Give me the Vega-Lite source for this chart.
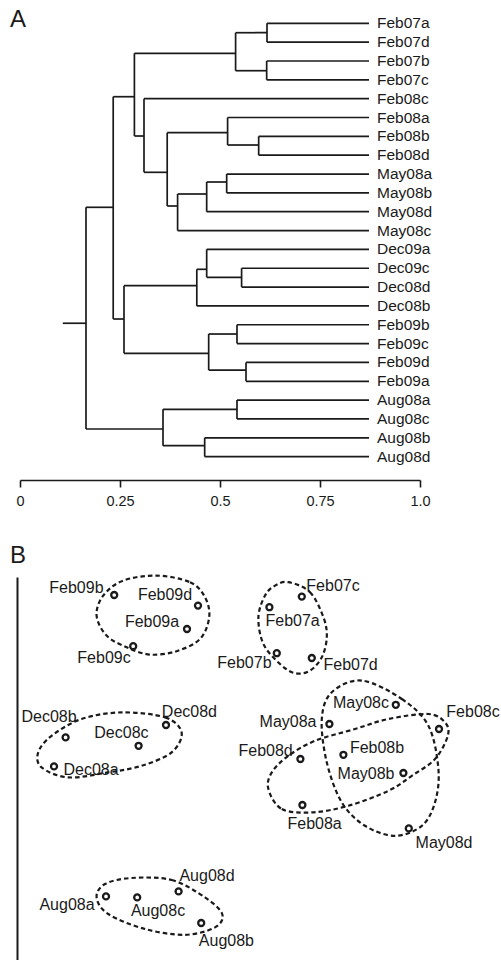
{
  "$schema": "https://vega.github.io/schema/vega-lite/v6.json",
  "padding": {"left": 10, "top": 0, "right": 0, "bottom": 0},
  "spacing": 36,
  "config": {
    "font": "Liberation Sans",
    "view": {"stroke": null},
    "title": {"fontSize": 24, "fontWeight": "normal", "color": "#1a1a1a", "anchor": "start", "frame": "group", "baseline": "alphabetic"}
  },
  "datasets": {
    "segs": [
      {"x": 0.6175, "x2": 0.6175, "y": 1, "y2": 2},
      {"x": 0.6167, "x2": 0.6167, "y": 3, "y2": 4},
      {"x": 0.539, "x2": 0.539, "y": 1.499, "y2": 3.516},
      {"x": 0.5967, "x2": 0.5967, "y": 7, "y2": 8},
      {"x": 0.519, "x2": 0.519, "y": 6, "y2": 7.46},
      {"x": 0.5167, "x2": 0.5167, "y": 9, "y2": 10},
      {"x": 0.4667, "x2": 0.4667, "y": 9.423, "y2": 11},
      {"x": 0.394, "x2": 0.394, "y": 10.06, "y2": 12},
      {"x": 0.368, "x2": 0.368, "y": 6.807, "y2": 10.697},
      {"x": 0.31, "x2": 0.31, "y": 5, "y2": 8.909},
      {"x": 0.286, "x2": 0.286, "y": 2.592, "y2": 6.982},
      {"x": 0.554, "x2": 0.554, "y": 14, "y2": 15},
      {"x": 0.4667, "x2": 0.4667, "y": 13, "y2": 14.482},
      {"x": 0.442, "x2": 0.442, "y": 14.057, "y2": 16},
      {"x": 0.5425, "x2": 0.5425, "y": 17, "y2": 18},
      {"x": 0.565, "x2": 0.565, "y": 19, "y2": 20},
      {"x": 0.4717, "x2": 0.4717, "y": 17.492, "y2": 19.403},
      {"x": 0.26, "x2": 0.26, "y": 14.928, "y2": 18.516},
      {"x": 0.233, "x2": 0.233, "y": 4.896, "y2": 16.695},
      {"x": 0.5425, "x2": 0.5425, "y": 21, "y2": 22},
      {"x": 0.4617, "x2": 0.4617, "y": 23, "y2": 24},
      {"x": 0.3575, "x2": 0.3575, "y": 21.488, "y2": 23.42},
      {"x": 0.165, "x2": 0.165, "y": 10.766, "y2": 22.534},
      {"x": 0.539, "x2": 0.6175, "y": 1.499, "y2": 1.499},
      {"x": 0.539, "x2": 0.6167, "y": 3.516, "y2": 3.516},
      {"x": 0.286, "x2": 0.539, "y": 2.592, "y2": 2.592},
      {"x": 0.519, "x2": 0.5967, "y": 7.46, "y2": 7.46},
      {"x": 0.368, "x2": 0.519, "y": 6.807, "y2": 6.807},
      {"x": 0.4667, "x2": 0.5167, "y": 9.423, "y2": 9.423},
      {"x": 0.394, "x2": 0.4667, "y": 10.06, "y2": 10.06},
      {"x": 0.368, "x2": 0.394, "y": 10.697, "y2": 10.697},
      {"x": 0.31, "x2": 0.368, "y": 8.909, "y2": 8.909},
      {"x": 0.286, "x2": 0.31, "y": 6.982, "y2": 6.982},
      {"x": 0.233, "x2": 0.286, "y": 4.896, "y2": 4.896},
      {"x": 0.4667, "x2": 0.554, "y": 14.482, "y2": 14.482},
      {"x": 0.442, "x2": 0.4667, "y": 14.057, "y2": 14.057},
      {"x": 0.26, "x2": 0.442, "y": 14.928, "y2": 14.928},
      {"x": 0.4717, "x2": 0.5425, "y": 17.492, "y2": 17.492},
      {"x": 0.4717, "x2": 0.565, "y": 19.403, "y2": 19.403},
      {"x": 0.26, "x2": 0.4717, "y": 18.516, "y2": 18.516},
      {"x": 0.233, "x2": 0.26, "y": 16.695, "y2": 16.695},
      {"x": 0.165, "x2": 0.233, "y": 10.766, "y2": 10.766},
      {"x": 0.3575, "x2": 0.5425, "y": 21.488, "y2": 21.488},
      {"x": 0.3575, "x2": 0.4617, "y": 23.42, "y2": 23.42},
      {"x": 0.165, "x2": 0.3575, "y": 22.534, "y2": 22.534},
      {"x": 0.107, "x2": 0.165, "y": 16.92, "y2": 16.92},
      {"x": 0.6175, "x2": 0.8725, "y": 1, "y2": 1, "leaf": "Feb07a"},
      {"x": 0.6175, "x2": 0.8725, "y": 2, "y2": 2, "leaf": "Feb07d"},
      {"x": 0.6167, "x2": 0.8725, "y": 3, "y2": 3, "leaf": "Feb07b"},
      {"x": 0.6167, "x2": 0.8725, "y": 4, "y2": 4, "leaf": "Feb07c"},
      {"x": 0.31, "x2": 0.8725, "y": 5, "y2": 5, "leaf": "Feb08c"},
      {"x": 0.519, "x2": 0.8725, "y": 6, "y2": 6, "leaf": "Feb08a"},
      {"x": 0.5967, "x2": 0.8725, "y": 7, "y2": 7, "leaf": "Feb08b"},
      {"x": 0.5967, "x2": 0.8725, "y": 8, "y2": 8, "leaf": "Feb08d"},
      {"x": 0.5167, "x2": 0.8725, "y": 9, "y2": 9, "leaf": "May08a"},
      {"x": 0.5167, "x2": 0.8725, "y": 10, "y2": 10, "leaf": "May08b"},
      {"x": 0.4667, "x2": 0.8725, "y": 11, "y2": 11, "leaf": "May08d"},
      {"x": 0.394, "x2": 0.8725, "y": 12, "y2": 12, "leaf": "May08c"},
      {"x": 0.4667, "x2": 0.8725, "y": 13, "y2": 13, "leaf": "Dec09a"},
      {"x": 0.554, "x2": 0.8725, "y": 14, "y2": 14, "leaf": "Dec09c"},
      {"x": 0.554, "x2": 0.8725, "y": 15, "y2": 15, "leaf": "Dec08d"},
      {"x": 0.442, "x2": 0.8725, "y": 16, "y2": 16, "leaf": "Dec08b"},
      {"x": 0.5425, "x2": 0.8725, "y": 17, "y2": 17, "leaf": "Feb09b"},
      {"x": 0.5425, "x2": 0.8725, "y": 18, "y2": 18, "leaf": "Feb09c"},
      {"x": 0.565, "x2": 0.8725, "y": 19, "y2": 19, "leaf": "Feb09d"},
      {"x": 0.565, "x2": 0.8725, "y": 20, "y2": 20, "leaf": "Feb09a"},
      {"x": 0.5425, "x2": 0.8725, "y": 21, "y2": 21, "leaf": "Aug08a"},
      {"x": 0.5425, "x2": 0.8725, "y": 22, "y2": 22, "leaf": "Aug08c"},
      {"x": 0.4617, "x2": 0.8725, "y": 23, "y2": 23, "leaf": "Aug08b"},
      {"x": 0.4617, "x2": 0.8725, "y": 24, "y2": 24, "leaf": "Aug08d"}
    ],
    "pts": [
      {"id": "Feb09b", "x": -0.679, "y": 0.52, "lx": -0.868, "ly": 0.553},
      {"id": "Feb09d", "x": -0.26, "y": 0.467, "lx": -0.425, "ly": 0.52},
      {"id": "Feb09a", "x": -0.315, "y": 0.35, "lx": -0.49, "ly": 0.384},
      {"id": "Feb09c", "x": -0.584, "y": 0.264, "lx": -0.73, "ly": 0.204},
      {"id": "Feb07c", "x": 0.259, "y": 0.512, "lx": 0.415, "ly": 0.564},
      {"id": "Feb07a", "x": 0.097, "y": 0.459, "lx": 0.213, "ly": 0.392},
      {"id": "Feb07b", "x": 0.134, "y": 0.229, "lx": -0.028, "ly": 0.179},
      {"id": "Feb07d", "x": 0.309, "y": 0.205, "lx": 0.503, "ly": 0.17},
      {"id": "May08c", "x": 0.729, "y": -0.029, "lx": 0.555, "ly": -0.022},
      {"id": "May08a", "x": 0.397, "y": -0.125, "lx": 0.19, "ly": -0.117},
      {"id": "Feb08c", "x": 0.945, "y": -0.15, "lx": 1.115, "ly": -0.067},
      {"id": "Dec08b", "x": -0.922, "y": -0.192, "lx": -1.005, "ly": -0.089},
      {"id": "Dec08d", "x": -0.42, "y": -0.13, "lx": -0.303, "ly": -0.067},
      {"id": "Dec08c", "x": -0.557, "y": -0.234, "lx": -0.643, "ly": -0.172},
      {"id": "Feb08d", "x": 0.252, "y": -0.3, "lx": 0.078, "ly": -0.259},
      {"id": "Feb08b", "x": 0.467, "y": -0.279, "lx": 0.635, "ly": -0.247},
      {"id": "Dec08a", "x": -0.98, "y": -0.337, "lx": -0.795, "ly": -0.355},
      {"id": "May08b", "x": 0.767, "y": -0.37, "lx": 0.58, "ly": -0.375},
      {"id": "Feb08a", "x": 0.262, "y": -0.53, "lx": 0.323, "ly": -0.625},
      {"id": "May08d", "x": 0.794, "y": -0.647, "lx": 0.97, "ly": -0.722},
      {"id": "Aug08d", "x": -0.357, "y": -0.962, "lx": -0.215, "ly": -0.884},
      {"id": "Aug08a", "x": -0.72, "y": -0.987, "lx": -0.915, "ly": -1.03},
      {"id": "Aug08c", "x": -0.564, "y": -0.992, "lx": -0.46, "ly": -1.062},
      {"id": "Aug08b", "x": -0.244, "y": -1.12, "lx": -0.118, "ly": -1.209}
    ],
    "ell": [
      {"g": "Feb09", "i": 1, "x": -0.467, "y": 0.617},
      {"g": "Feb09", "i": 2, "x": -0.3, "y": 0.584},
      {"g": "Feb09", "i": 3, "x": -0.225, "y": 0.509},
      {"g": "Feb09", "i": 4, "x": -0.204, "y": 0.409},
      {"g": "Feb09", "i": 5, "x": -0.25, "y": 0.3},
      {"g": "Feb09", "i": 6, "x": -0.367, "y": 0.239},
      {"g": "Feb09", "i": 7, "x": -0.5, "y": 0.222},
      {"g": "Feb09", "i": 8, "x": -0.617, "y": 0.259},
      {"g": "Feb09", "i": 9, "x": -0.717, "y": 0.317},
      {"g": "Feb09", "i": 10, "x": -0.767, "y": 0.417},
      {"g": "Feb09", "i": 11, "x": -0.734, "y": 0.517},
      {"g": "Feb09", "i": 12, "x": -0.634, "y": 0.592},
      {"g": "Feb07", "i": 1, "x": 0.192, "y": 0.584},
      {"g": "Feb07", "i": 2, "x": 0.3, "y": 0.534},
      {"g": "Feb07", "i": 3, "x": 0.367, "y": 0.409},
      {"g": "Feb07", "i": 4, "x": 0.384, "y": 0.309},
      {"g": "Feb07", "i": 5, "x": 0.359, "y": 0.209},
      {"g": "Feb07", "i": 6, "x": 0.3, "y": 0.142},
      {"g": "Feb07", "i": 7, "x": 0.225, "y": 0.129},
      {"g": "Feb07", "i": 8, "x": 0.15, "y": 0.175},
      {"g": "Feb07", "i": 9, "x": 0.067, "y": 0.275},
      {"g": "Feb07", "i": 10, "x": 0.042, "y": 0.409},
      {"g": "Feb07", "i": 11, "x": 0.075, "y": 0.517},
      {"g": "Feb07", "i": 12, "x": 0.125, "y": 0.567},
      {"g": "Dec08", "i": 1, "x": -0.642, "y": -0.067},
      {"g": "Dec08", "i": 2, "x": -0.425, "y": -0.092},
      {"g": "Dec08", "i": 3, "x": -0.342, "y": -0.167},
      {"g": "Dec08", "i": 4, "x": -0.392, "y": -0.267},
      {"g": "Dec08", "i": 5, "x": -0.542, "y": -0.334},
      {"g": "Dec08", "i": 6, "x": -0.709, "y": -0.367},
      {"g": "Dec08", "i": 7, "x": -0.909, "y": -0.392},
      {"g": "Dec08", "i": 8, "x": -1.042, "y": -0.342},
      {"g": "Dec08", "i": 9, "x": -1.059, "y": -0.267},
      {"g": "Dec08", "i": 10, "x": -0.992, "y": -0.184},
      {"g": "Dec08", "i": 11, "x": -0.842, "y": -0.1},
      {"g": "May08", "i": 1, "x": 0.559, "y": 0.092},
      {"g": "May08", "i": 2, "x": 0.759, "y": 0},
      {"g": "May08", "i": 3, "x": 0.892, "y": -0.134},
      {"g": "May08", "i": 4, "x": 0.942, "y": -0.35},
      {"g": "May08", "i": 5, "x": 0.925, "y": -0.517},
      {"g": "May08", "i": 6, "x": 0.859, "y": -0.634},
      {"g": "May08", "i": 7, "x": 0.725, "y": -0.684},
      {"g": "May08", "i": 8, "x": 0.575, "y": -0.634},
      {"g": "May08", "i": 9, "x": 0.459, "y": -0.517},
      {"g": "May08", "i": 10, "x": 0.384, "y": -0.317},
      {"g": "May08", "i": 11, "x": 0.359, "y": -0.1},
      {"g": "May08", "i": 12, "x": 0.409, "y": 0.034},
      {"g": "Feb08", "i": 1, "x": 0.092, "y": -0.45},
      {"g": "Feb08", "i": 2, "x": 0.159, "y": -0.55},
      {"g": "Feb08", "i": 3, "x": 0.309, "y": -0.567},
      {"g": "Feb08", "i": 4, "x": 0.492, "y": -0.534},
      {"g": "Feb08", "i": 5, "x": 0.692, "y": -0.459},
      {"g": "Feb08", "i": 6, "x": 0.809, "y": -0.384},
      {"g": "Feb08", "i": 7, "x": 0.925, "y": -0.3},
      {"g": "Feb08", "i": 8, "x": 0.989, "y": -0.184},
      {"g": "Feb08", "i": 9, "x": 0.975, "y": -0.117},
      {"g": "Feb08", "i": 10, "x": 0.892, "y": -0.075},
      {"g": "Feb08", "i": 11, "x": 0.692, "y": -0.1},
      {"g": "Feb08", "i": 12, "x": 0.525, "y": -0.15},
      {"g": "Feb08", "i": 13, "x": 0.325, "y": -0.209},
      {"g": "Feb08", "i": 14, "x": 0.192, "y": -0.284},
      {"g": "Feb08", "i": 15, "x": 0.109, "y": -0.367},
      {"g": "Aug08", "i": 1, "x": -0.592, "y": -0.895},
      {"g": "Aug08", "i": 2, "x": -0.392, "y": -0.905},
      {"g": "Aug08", "i": 3, "x": -0.225, "y": -0.992},
      {"g": "Aug08", "i": 4, "x": -0.139, "y": -1.075},
      {"g": "Aug08", "i": 5, "x": -0.175, "y": -1.142},
      {"g": "Aug08", "i": 6, "x": -0.325, "y": -1.179},
      {"g": "Aug08", "i": 7, "x": -0.525, "y": -1.15},
      {"g": "Aug08", "i": 8, "x": -0.709, "y": -1.075},
      {"g": "Aug08", "i": 9, "x": -0.767, "y": -0.992},
      {"g": "Aug08", "i": 10, "x": -0.725, "y": -0.925}
    ]
  },
  "vconcat": [
    {
      "width": 400,
      "height": 480,
      "title": {"text": "A", "dx": -10, "offset": -32},
      "data": {"name": "segs"},
      "layer": [
        {
          "mark": {"type": "rule", "strokeWidth": 1.7, "color": "#1a1a1a"},
          "encoding": {
            "x": {"field": "x", "type": "quantitative", "scale": {"domain": [0, 1], "nice": false, "zero": false},
              "axis": {"values": [0, 0.25, 0.5, 0.75, 1], "labelExpr": "datum.value === 1 ? '1.0' : toString(datum.value)", "title": null, "grid": false, "domainColor": "#1a1a1a", "domainWidth": 1.6, "tickColor": "#1a1a1a", "tickWidth": 1.6, "tickSize": 7, "labelFontSize": 14.5, "labelColor": "#1a1a1a", "labelPadding": 7, "labelFlush": false}},
            "x2": {"field": "x2"},
            "y": {"field": "y", "type": "quantitative", "scale": {"domain": [-0.237, 25.24], "reverse": true, "nice": false, "zero": false}, "axis": null},
            "y2": {"field": "y2"}
          }
        },
        {
          "transform": [{"filter": "datum.leaf"}],
          "mark": {"type": "text", "align": "left", "baseline": "middle", "dx": 8, "fontSize": 15.5, "color": "#1a1a1a"},
          "encoding": {
            "x": {"field": "x2", "type": "quantitative", "scale": {"domain": [0, 1], "nice": false, "zero": false}},
            "y": {"field": "y", "type": "quantitative", "scale": {"domain": [-0.237, 25.24], "reverse": true, "nice": false, "zero": false}},
            "text": {"field": "leaf"}
          }
        }
      ]
    },
    {
      "width": 481,
      "height": 383,
      "title": {"text": "B", "dx": -10, "offset": 3},
      "layer": [
        {
          "data": {"name": "ell"},
          "mark": {"type": "line", "interpolate": "cardinal-closed", "strokeDash": [4.5, 3], "strokeWidth": 2.2, "color": "#1a1a1a"},
          "encoding": {
            "x": {"field": "x", "type": "quantitative", "scale": {"domain": [-1.15, 1.255], "nice": false, "zero": false}, "axis": null},
            "y": {"field": "y", "type": "quantitative", "scale": {"domain": [-1.305, 0.61], "nice": false, "zero": false},
              "axis": {"title": null, "ticks": false, "labels": false, "grid": false, "domainColor": "#1a1a1a", "domainWidth": 2, "offset": 3}},
            "detail": {"field": "g"},
            "order": {"field": "i"}
          }
        },
        {
          "data": {"name": "pts"},
          "mark": {"type": "point", "shape": "circle", "filled": false, "strokeWidth": 2.3, "size": 36, "color": "#1a1a1a", "opacity": 1},
          "encoding": {
            "x": {"field": "x", "type": "quantitative", "scale": {"domain": [-1.15, 1.255], "nice": false, "zero": false}, "axis": null},
            "y": {"field": "y", "type": "quantitative", "scale": {"domain": [-1.305, 0.61], "nice": false, "zero": false},
              "axis": {"title": null, "ticks": false, "labels": false, "grid": false, "domainColor": "#1a1a1a", "domainWidth": 2, "offset": 3}}
          }
        },
        {
          "data": {"name": "pts"},
          "mark": {"type": "text", "align": "center", "baseline": "middle", "fontSize": 16, "color": "#1a1a1a"},
          "encoding": {
            "x": {"field": "lx", "type": "quantitative", "scale": {"domain": [-1.15, 1.255], "nice": false, "zero": false}, "axis": null},
            "y": {"field": "ly", "type": "quantitative", "scale": {"domain": [-1.305, 0.61], "nice": false, "zero": false},
              "axis": {"title": null, "ticks": false, "labels": false, "grid": false, "domainColor": "#1a1a1a", "domainWidth": 2, "offset": 3}},
            "text": {"field": "id"}
          }
        }
      ]
    }
  ]
}
